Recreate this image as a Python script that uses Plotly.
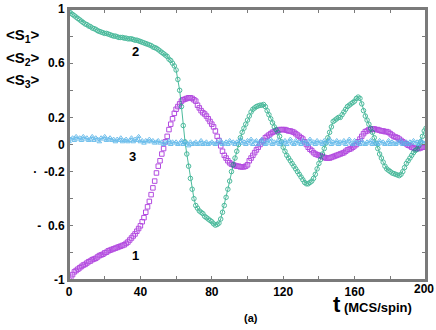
import plotly.graph_objects as go

# time axis (MCS/spin)
t = list(range(0, 201))

# <S1>  (curve 1, purple squares)
s1 = [
    -1.00, -0.98, -0.96, -0.94, -0.93, -0.92, -0.91, -0.90, -0.89, -0.885,
    -0.875, -0.865, -0.86, -0.85, -0.845, -0.84, -0.83, -0.82, -0.815, -0.81,
    -0.80, -0.795, -0.785, -0.78, -0.775, -0.77, -0.765, -0.76, -0.755, -0.75,
    -0.745, -0.74, -0.73, -0.72, -0.705, -0.69, -0.675, -0.66, -0.64, -0.62,
    -0.60, -0.57, -0.54, -0.50, -0.46, -0.42, -0.37, -0.32, -0.27, -0.21,
    -0.16, -0.12, -0.07, -0.03, 0.02, 0.06, 0.11, 0.15, 0.19, 0.23,
    0.26, 0.28, 0.30, 0.32, 0.33, 0.335, 0.34, 0.345, 0.345, 0.34,
    0.33, 0.32, 0.29, 0.27, 0.25, 0.235, 0.225, 0.21, 0.19, 0.17,
    0.15, 0.13, 0.10, 0.06, 0.03, -0.01, -0.05, -0.08, -0.10, -0.12,
    -0.135, -0.145, -0.15, -0.155, -0.16, -0.16, -0.165, -0.165, -0.165, -0.16,
    -0.15, -0.12, -0.10, -0.08, -0.06, -0.04, -0.02, 0.00, 0.02, 0.03,
    0.05, 0.06, 0.07, 0.08, 0.09, 0.095, 0.10, 0.105, 0.11, 0.11,
    0.11, 0.11, 0.105, 0.10, 0.10, 0.095, 0.09, 0.08, 0.07, 0.06,
    0.05, 0.04, 0.02, 0.00, -0.02, -0.035, -0.045, -0.06, -0.07, -0.075,
    -0.08, -0.085, -0.09, -0.095, -0.10, -0.10, -0.10, -0.095, -0.09, -0.085,
    -0.08, -0.075, -0.07, -0.065, -0.06, -0.05, -0.04, -0.035, -0.03, -0.02,
    -0.01, 0.00, 0.02, 0.04, 0.06, 0.08, 0.095, 0.10, 0.11, 0.11,
    0.115, 0.115, 0.11, 0.11, 0.105, 0.10, 0.10, 0.095, 0.095, 0.09,
    0.08, 0.07, 0.06, 0.055, 0.05, 0.04, 0.03, 0.02, 0.01, 0.005,
    -0.005, -0.01, -0.02, -0.025, -0.03, -0.03, -0.03, -0.025, -0.02, -0.02,
    -0.02,
]

# <S2>  (curve 2, green circles)
s2 = [
    0.98, 0.97, 0.96, 0.95, 0.94, 0.93, 0.92, 0.91, 0.90, 0.89,
    0.885, 0.875, 0.87, 0.86, 0.855, 0.85, 0.84, 0.835, 0.83, 0.825,
    0.82, 0.82, 0.815, 0.81, 0.805, 0.80, 0.80, 0.795, 0.79, 0.79,
    0.79, 0.785, 0.785, 0.78, 0.78, 0.78, 0.775, 0.77, 0.77, 0.765,
    0.76, 0.755, 0.75, 0.745, 0.74, 0.735, 0.73, 0.72, 0.715, 0.71,
    0.70, 0.69, 0.68, 0.67, 0.66, 0.65, 0.63, 0.62, 0.60, 0.58,
    0.55, 0.48, 0.40, 0.28, 0.14, 0.02, -0.07, -0.16, -0.25, -0.33,
    -0.40, -0.45, -0.47, -0.49, -0.50, -0.51, -0.53, -0.54, -0.55, -0.56,
    -0.57, -0.585, -0.595, -0.59, -0.58, -0.55, -0.50, -0.45, -0.39, -0.33,
    -0.27, -0.20, -0.15, -0.10, -0.05, 0.00, 0.05, 0.09, 0.12, 0.15,
    0.18, 0.21, 0.24, 0.26, 0.27, 0.28, 0.285, 0.29, 0.29, 0.295,
    0.28, 0.25, 0.22, 0.19, 0.16, 0.13, 0.11, 0.09, 0.06, 0.02,
    -0.02, -0.05, -0.08, -0.10, -0.12, -0.14, -0.16, -0.18, -0.20, -0.22,
    -0.24, -0.26, -0.28, -0.29, -0.29, -0.28, -0.27, -0.25, -0.22, -0.18,
    -0.14, -0.11, -0.07, -0.03, 0.01, 0.05, 0.09, 0.13, 0.17, 0.18,
    0.19, 0.20, 0.20, 0.22, 0.24, 0.26, 0.28, 0.29, 0.30, 0.31,
    0.32, 0.34, 0.35, 0.34, 0.30, 0.25, 0.21, 0.18, 0.15, 0.12,
    0.09, 0.05, 0.01, -0.03, -0.07, -0.10, -0.13, -0.16, -0.18, -0.19,
    -0.20, -0.21, -0.215, -0.22, -0.225, -0.23, -0.22, -0.20, -0.17, -0.14,
    -0.12, -0.10, -0.08, -0.06, -0.045, -0.035, -0.01, 0.02, 0.06, 0.10,
    0.12,
]

# <S3>  (curve 3, blue triangles)
s3 = [
    0.02, 0.04, 0.05, 0.03, 0.06, 0.04, 0.05, 0.03, 0.06, 0.04,
    0.05, 0.03, 0.04, 0.06, 0.03, 0.05, 0.04, 0.02, 0.05, 0.04,
    0.06, 0.03, 0.04, 0.05, 0.03, 0.04, 0.02, 0.04, 0.03, 0.05,
    0.02, 0.03, 0.04, 0.02, 0.03, 0.05, 0.02, 0.04, 0.03, 0.06,
    0.02, 0.03, 0.01, 0.03, 0.02, 0.04, 0.02, 0.03, 0.01, 0.02,
    0.03, 0.01, 0.02, 0.00, 0.02, 0.01, 0.03, 0.00, 0.02, 0.01,
    0.02, 0.00, 0.01, 0.03, 0.00, 0.02, 0.01, -0.01, 0.02, 0.00,
    0.01, 0.02, 0.00, 0.01, 0.03, 0.00, 0.01, 0.02, 0.00, 0.01,
    0.02, 0.01, 0.00, 0.02, 0.01, 0.03, 0.00, 0.01, 0.02, 0.00,
    0.03, 0.01, 0.02, 0.00, 0.02, 0.01, 0.04, 0.01, 0.02, 0.00,
    0.03, 0.01, 0.04, 0.00, 0.02, 0.03, 0.00, 0.02, 0.04, 0.01,
    0.00, 0.03, 0.01, 0.04, 0.00, 0.02, 0.01, 0.03, 0.00, 0.02,
    0.01, 0.03, 0.00, 0.02, 0.04, 0.01, 0.00, 0.03, 0.01, 0.02,
    0.00, 0.03, 0.01, 0.02, 0.00, 0.04, 0.01, 0.02, 0.00, 0.03,
    0.01, 0.02, 0.00, 0.03, 0.01, 0.02, 0.04, 0.00, 0.02, 0.01,
    0.03, 0.00, 0.02, 0.01, 0.03, 0.00, 0.02, 0.04, 0.01, 0.00,
    0.03, 0.01, 0.02, 0.00, 0.03, 0.01, 0.00, 0.02, 0.01, 0.03,
    0.00, 0.02, 0.01, 0.00, 0.03, 0.01, 0.02, 0.00, 0.01, 0.03,
    0.00, 0.02, 0.01, 0.00, 0.02, 0.01, 0.03, 0.00, 0.01, 0.02,
    0.00, 0.02, 0.01, 0.03, 0.01, 0.02, 0.00, 0.03, 0.02, 0.01,
    0.02,
]

x_ticks = list(range(0, 201, 20))
# the 200 label sits on the paper edge, plotly drops it, so it is an annotation below
x_text = ['<b>%d</b>' % v if v % 40 == 0 and v < 200 else ' ' for v in x_ticks]
y_ticks = [-1, -0.8, -0.6, -0.4, -0.2, 0, 0.2, 0.4, 0.6, 0.8, 1]
y_text = ['<b>-1</b>', ' ', '<b>-  0.6</b>', ' ', '<b>·  -0.2</b>', '<b>0</b>',
          '<b>0.2</b>', ' ', '<b>0.6</b>', ' ', '<b>1</b>']

PURPLE = '#9400D3'
GREEN = '#009E73'
BLUE = '#56B4E9'
AXIS = '#7a7a7a'
FONT = 'Arial, Liberation Sans'

# plot area in pixels: x 69..426, y 9..280
L, R, T, B = 69, 426, 9, 280


def px(x, y):
    return (x - L) / (R - L), (B - y) / (B - T)


fig = go.Figure()
fig.add_trace(go.Scatter(
    x=t, y=s1, mode='markers',
    marker=dict(symbol='square-open', size=4.5, color=PURPLE, line=dict(width=1)),
    opacity=0.7,
))
fig.add_trace(go.Scatter(
    x=t, y=s2, mode='lines+markers',
    line=dict(color=GREEN, width=1),
    marker=dict(symbol='circle-open', size=4.5, color=GREEN, line=dict(width=1)),
    opacity=0.7,
))
fig.add_trace(go.Scatter(
    x=t, y=s3, mode='lines+markers',
    line=dict(color=BLUE, width=1),
    marker=dict(symbol='triangle-up-open', size=4, color=BLUE, line=dict(width=1)),
    opacity=0.85,
))

axis_common = dict(
    showgrid=False, zeroline=False,
    showline=True, linecolor=AXIS, linewidth=2, mirror='allticks',
    ticks='inside', ticklen=4, tickcolor=AXIS, tickwidth=1,
    tickfont=dict(family=FONT, size=12, color='black'),
    automargin=False,
)

annotations = []
for i, yp in [(1, 35), (2, 58), (3, 81)]:
    xx, yy = px(4, yp)
    annotations.append(dict(
        text='<b>&lt;S<sub>%d</sub>&gt;</b>' % i, x=xx, y=yy,
        xref='paper', yref='paper', showarrow=False,
        xanchor='left', yanchor='middle',
        font=dict(family=FONT, size=15, color='black'),
    ))

# curve labels
for txt, xv, yv in [('1', 37, -0.82), ('2', 37, 0.69), ('3', 35.5, -0.085)]:
    annotations.append(dict(
        text='<b>%s</b>' % txt, x=xv, y=yv, xref='x', yref='y', showarrow=False,
        font=dict(family=FONT, size=13, color='black'),
    ))

xx, yy = px(424, 289)
annotations.append(dict(
    text='<b>200</b>', x=xx, y=yy, xref='paper', yref='paper', showarrow=False,
    xanchor='center', yanchor='middle',
    font=dict(family=FONT, size=12, color='black'),
))
xx, yy = px(372, 304)
annotations.append(dict(
    text='<b><span style="font-size:22px">t</span> (MCS/spin)</b>',
    x=xx, y=yy, xref='paper', yref='paper', showarrow=False,
    xanchor='center', yanchor='middle',
    font=dict(family=FONT, size=13, color='black'),
))
xx, yy = px(251, 318)
annotations.append(dict(
    text='<b>(a)</b>', x=xx, y=yy, xref='paper', yref='paper',
    showarrow=False, xanchor='center', yanchor='middle',
    font=dict(family=FONT, size=11, color='black'),
))

fig.update_layout(
    width=436, height=330,
    paper_bgcolor='white', plot_bgcolor='white',
    margin=dict(l=L, r=436 - R, t=T, b=330 - B, autoexpand=False),
    showlegend=False,
    xaxis=dict(axis_common, range=[0, 200], tickvals=x_ticks, ticktext=x_text),
    yaxis=dict(axis_common, range=[-1, 1], tickvals=y_ticks, ticktext=y_text),
    annotations=annotations,
    shapes=[dict(type='rect', xref='paper', yref='paper', x0=0, x1=1, y0=0, y1=1,
                 line=dict(color=AXIS, width=2), layer='above')],
)

fig.write_html(
    'out.html',
    config={'displayModeBar': False},
    post_script="document.body.style.margin='0';document.body.style.overflow='hidden';",
)
